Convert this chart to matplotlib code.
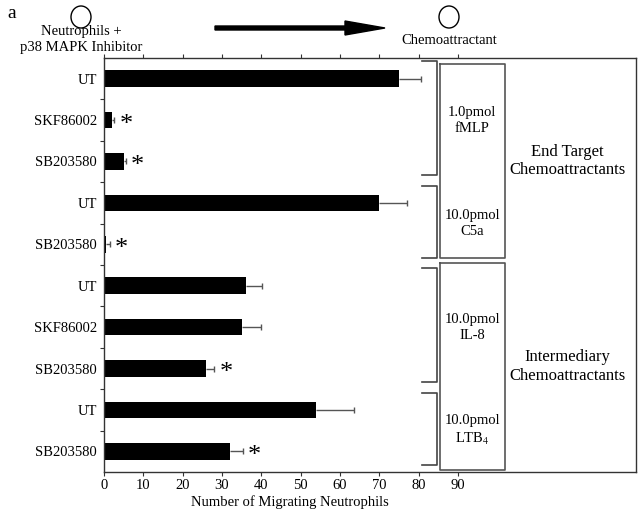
import matplotlib
matplotlib.use("Agg")
import matplotlib.pyplot as plt
from matplotlib.patches import Ellipse, FancyArrow

plt.rcParams['font.family'] = ['Liberation Serif', 'DejaVu Serif']
plt.rcParams['mathtext.fontset'] = 'stix'

# ---- данные ----
labels = ["UT", "SKF86002", "SB203580", "UT", "SB203580",
          "UT", "SKF86002", "SB203580", "UT", "SB203580"]
values = [75, 2, 5, 70, 0.4, 36, 35, 26, 54, 32]
errors = [5.5, 0.6, 0.5, 7, 1.0, 4.2, 5, 2, 9.5, 3.2]
significant = [False, True, True, False, True, False, False, True, False, True]

dose_labels = ["1.0pmol\nfMLP", "10.0pmol\nC5a", "10.0pmol\nIL-8", "10.0pmol\nLTB$_4$"]
dose_spans = [(0, 2), (3, 4), (5, 7), (8, 9)]
class_labels = ["End Target\nChemoattractants", "Intermediary\nChemoattractants"]
x_ticks = [0, 10, 20, 30, 40, 50, 60, 70, 80, 90]

W, H = 640, 514
fig = plt.figure(figsize=(W / 100, H / 100), dpi=100)
ax = fig.add_axes([104 / W, 1 - 472 / H, 532 / W, 414 / H])

ypos = list(range(len(values)))
line_col = '#333333'
err_col = '#555555'

ax.barh(ypos, values, height=0.4, color='black', zorder=2)
# только правая половина "усов" ошибок
err_end = [v + e for v, e in zip(values, errors)]
ax.hlines(ypos, values, err_end, color=err_col, lw=1, zorder=1)
ax.plot(err_end, ypos, ls='none', marker='|', ms=5, mew=1, color=err_col, zorder=1)

# звёздочки значимости
for i, sig in enumerate(significant):
    if sig:
        ax.text(err_end[i] + 3, i + 0.12, "*", fontsize=19,
                ha='center', va='center')

ax.set_xlim(0, 135.2)
ax.set_ylim(9.5, -0.5)

ax.set_xticks(x_ticks)
ax.set_xticklabels([str(t) for t in x_ticks], fontsize=10.5)
ax.tick_params(axis='x', direction='out', length=3, width=0.8, color=line_col,
               top=True, pad=2)
ax.set_yticks(ypos)
ax.set_yticklabels(labels, fontsize=10.5)
ax.tick_params(axis='y', length=0, pad=5)
ax.set_yticks([i + 0.5 for i in ypos[:-1]], minor=True)
ax.tick_params(axis='y', which='minor', direction='out', length=3, width=0.8,
               color=line_col)
ax.set_xlabel("Number of Migrating Neutrophils", fontsize=10.5)
ax.xaxis.set_label_coords(0.35, -0.055)
for sp in ax.spines.values():
    sp.set_color(line_col)
    sp.set_linewidth(1)

# скобки для доз
brk_x, brk_left = 84.5, 80.7
for (a, b), txt in zip(dose_spans, dose_labels):
    y0, y1 = a - 0.42, b + 0.33
    ax.plot([brk_left, brk_x, brk_x, brk_left], [y0, y0, y1, y1],
            color='#444444', lw=1.2, clip_on=False)
    ax.text(93.6, (y0 + y1) / 2 + 0.05, txt, fontsize=10.5, ha='center',
            va='center', linespacing=1.3)

# рамки классов
box_x0, box_x1 = 85.3, 102
box_y = [(-0.36, 4.33), (4.46, 9.44)]
for (y0, y1), txt in zip(box_y, class_labels):
    ax.plot([box_x0, box_x1, box_x1, box_x0, box_x0], [y0, y0, y1, y1, y0],
            color='#555555', lw=1.2, clip_on=False)
    ax.text(117.8, (y0 + y1) / 2, txt, fontsize=12, ha='center',
            va='center', linespacing=1.2)

# шапка
def fx(px):
    return px / W


def fy(py):
    return 1 - py / H


fig.text(fx(12), fy(14), "a", fontsize=14, ha='center', va='center')
for cx in (81, 449):
    fig.patches.append(Ellipse((fx(cx), fy(17)), 20 / W, 22 / H, fill=False,
                               edgecolor='black', lw=1,
                               transform=fig.transFigure))
fig.text(fx(81), fy(31), "Neutrophils +", fontsize=10.5, ha='center', va='center')
fig.text(fx(81), fy(47), "p38 MAPK Inhibitor", fontsize=10.5, ha='center', va='center')
fig.text(fx(449), fy(40), "Chemoattractant", fontsize=10.5, ha='center', va='center')
fig.patches.append(FancyArrow(fx(215), fy(28), fx(170), 0, width=4 / H,
                              head_width=14 / H, head_length=fx(40),
                              length_includes_head=True, color='black',
                              transform=fig.transFigure))

fig.savefig("out.png", dpi=100)
